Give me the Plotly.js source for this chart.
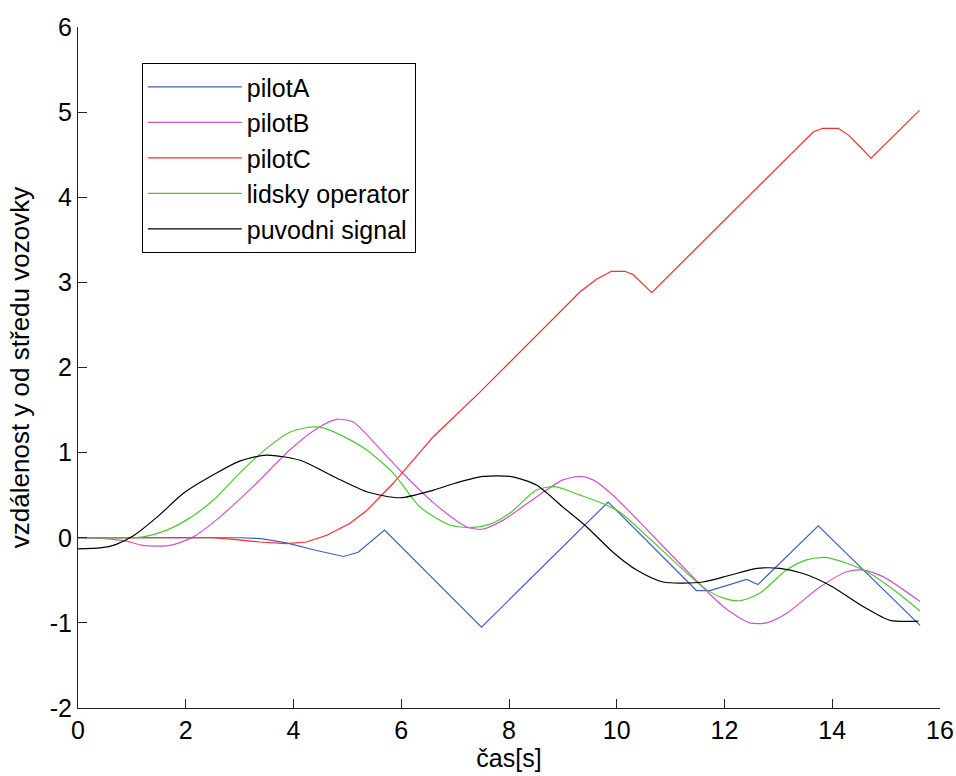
<!DOCTYPE html>
<html>
<head>
<meta charset="utf-8">
<script src="https://cdn.plot.ly/plotly-3.0.1.min.js"></script>
<style>html,body{margin:0;padding:0;background:#fff;}#chart{width:956px;height:776px;}</style>
</head>
<body>
<div id="chart"></div>
<script>
const seriesNames = ["pilotA", "pilotB", "pilotC", "lidsky operator", "puvodni signal"];

const pilotA_t = [0, 1.5, 3.0, 3.4, 3.87, 4.43, 4.93, 5.2, 5.69, 7.49, 9.84, 11.48, 11.73, 12.41, 12.62, 13.74, 15.63];
const pilotA_y = [0, 0, 0, -0.01, -0.06, -0.15, -0.22, -0.17, 0.09, -1.05, 0.42, -0.62, -0.62, -0.49, -0.55, 0.14, -1.03];

const pilotB_t = [0, 0.5, 0.9, 1.21, 1.71, 2.14, 2.57, 3.25, 3.93, 4.43, 4.8, 5.11, 5.48, 5.98, 6.6, 7.21, 7.5, 7.9, 8.51, 9.0, 9.32, 9.56, 9.93, 11.98, 12.47, 12.78, 13.15, 13.77, 14.27, 14.58, 14.95, 15.63];
const pilotB_y = [0, -0.01, -0.04, -0.09, -0.09, 0.01, 0.21, 0.6, 1.03, 1.28, 1.39, 1.36, 1.13, 0.79, 0.41, 0.13, 0.1, 0.21, 0.48, 0.68, 0.72, 0.68, 0.5, -0.81, -1.0, -1.0, -0.89, -0.58, -0.4, -0.38, -0.46, -0.75];

const pilotC_t = [0, 1.2, 2.5, 2.88, 3.38, 3.87, 4.24, 4.62, 5.05, 5.36, 5.85, 6.6, 7.46, 9.32, 9.63, 9.9, 10.15, 10.31, 10.65, 13.65, 13.83, 14.11, 14.3, 14.52, 14.72, 15.62];
const pilotC_y = [0, 0, 0, -0.02, -0.05, -0.07, -0.05, 0.03, 0.17, 0.32, 0.64, 1.19, 1.71, 2.89, 3.04, 3.13, 3.13, 3.09, 2.88, 4.77, 4.81, 4.81, 4.73, 4.59, 4.46, 5.02];

const operator_t = [0, 1.0, 1.21, 1.65, 2.02, 2.51, 3.0, 3.5, 3.93, 4.31, 4.55, 5.05, 5.36, 5.85, 6.35, 6.9, 7.3, 7.65, 8.02, 8.51, 8.85, 9.32, 9.75, 10.06, 11.6, 11.98, 12.29, 12.66, 13.15, 13.52, 13.87, 14.27, 14.7, 15.2, 15.63];
const operator_y = [0, 0, 0.01, 0.09, 0.21, 0.44, 0.76, 1.05, 1.24, 1.3, 1.29, 1.15, 1.03, 0.76, 0.36, 0.15, 0.12, 0.16, 0.29, 0.56, 0.6, 0.5, 0.4, 0.3, -0.58, -0.71, -0.74, -0.65, -0.38, -0.26, -0.23, -0.3, -0.42, -0.64, -0.86];

const signal_t = [0, 0.41, 0.7, 1.02, 1.5, 1.95, 2.57, 3.0, 3.5, 4.12, 4.74, 5.36, 5.98, 6.6, 7.0, 7.52, 8.02, 8.51, 9.0, 9.44, 9.93, 10.37, 10.86, 11.6, 12.1, 12.6, 13.03, 13.46, 13.96, 14.58, 15.07, 15.6];
const signal_y = [-0.13, -0.12, -0.08, 0.02, 0.26, 0.52, 0.76, 0.9, 0.97, 0.91, 0.72, 0.54, 0.47, 0.56, 0.64, 0.72, 0.72, 0.62, 0.36, 0.13, -0.17, -0.38, -0.52, -0.52, -0.44, -0.36, -0.36, -0.42, -0.56, -0.81, -0.97, -0.98];

const xTicks = [0, 2, 4, 6, 8, 10, 12, 14, 16];
const yTicks = [-2, -1, 0, 1, 2, 3, 4, 5, 6];

const FONT = "Liberation Sans, Arial, Helvetica, sans-serif";

function tr(name, x, y, color, smooth) {
  return {
    type: "scatter", mode: "lines", name: name, x: x, y: y,
    line: smooth ? {color: color, width: 1.2, shape: "spline", smoothing: 0.7} : {color: color, width: 1.2}
  };
}

const data = [
  tr(seriesNames[0], pilotA_t, pilotA_y, "#3c5fc4", false),
  tr(seriesNames[1], pilotB_t, pilotB_y, "#cc55cc", true),
  tr(seriesNames[2], pilotC_t, pilotC_y, "#ff2a2a", false),
  tr(seriesNames[3], operator_t, operator_y, "#4cc82c", true),
  tr(seriesNames[4], signal_t, signal_y, "#000000", true)
];

const layout = {
  width: 956, height: 776,
  margin: {l: 78, r: 16, t: 27, b: 68},
  paper_bgcolor: "#fff", plot_bgcolor: "#fff",
  font: {family: FONT, size: 25, color: "#000"},
  showlegend: true,
  legend: {
    x: 0.074, y: 0.947, xanchor: "left", yanchor: "top",
    bordercolor: "#000", borderwidth: 1, bgcolor: "#fff",
    font: {family: FONT, size: 25, color: "#000"},
    itemwidth: 94, tracegroupgap: 0
  },
  xaxis: {
    range: [0, 16], tickvals: xTicks, ticktext: xTicks.map(String),
    showgrid: false, zeroline: false, showline: true, linecolor: "#222", linewidth: 1,
    ticks: "inside", ticklen: 9, tickcolor: "#222",
    tickfont: {family: FONT, size: 25},
    title: {text: "čas[s]", font: {family: FONT, size: 25}, standoff: 6}
  },
  yaxis: {
    range: [-2, 6], tickvals: yTicks, ticktext: yTicks.map(String),
    showgrid: false, zeroline: false, showline: true, linecolor: "#222", linewidth: 1,
    ticks: "inside", ticklen: 9, tickcolor: "#222",
    tickfont: {family: FONT, size: 25},
    title: {text: "vzdálenost y od středu vozovky", font: {family: FONT, size: 26}, standoff: 12}
  }
};

Plotly.newPlot("chart", data, layout, {displayModeBar: false, staticPlot: true});
</script>
</body>
</html>
